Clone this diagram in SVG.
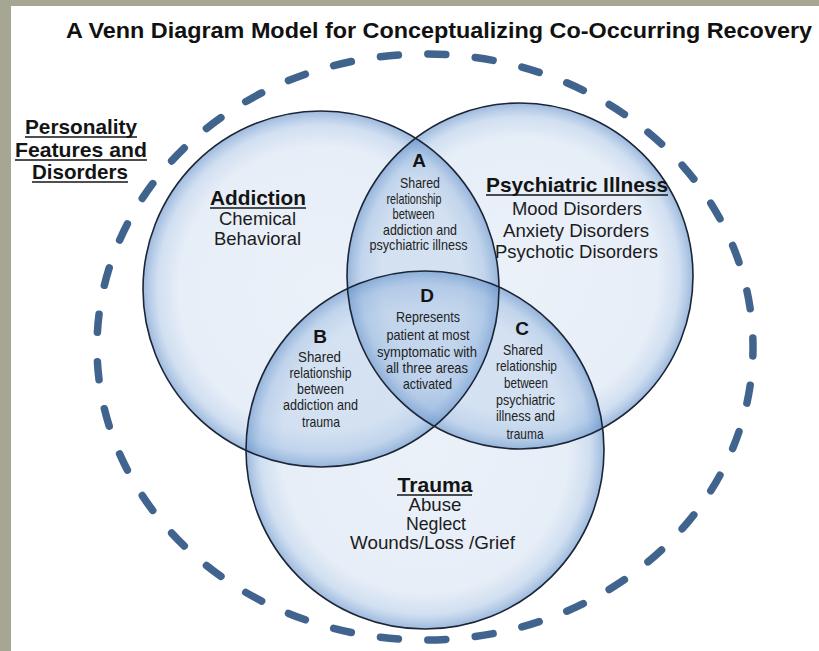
<svg xmlns="http://www.w3.org/2000/svg" width="819" height="651" viewBox="0 0 819 651">
  <defs>
    <!-- bubble fill: pale, translucent centre with a deeper blue rim so overlaps darken -->
    <radialGradient id="bubble" cx="0.5" cy="0.5" r="0.5">
      <stop offset="0" stop-color="#6e9bd2" stop-opacity="0.14"/>
      <stop offset="0.8" stop-color="#6e9bd2" stop-opacity="0.17"/>
      <stop offset="0.92" stop-color="#6e9bd2" stop-opacity="0.32"/>
      <stop offset="1" stop-color="#5d8cc8" stop-opacity="0.6"/>
    </radialGradient>
    <style>
      .fill { fill: url(#bubble); }
      .rim { fill: none; stroke: #1c2535; stroke-width: 1.6; }
      .hdr { font-family: "Liberation Sans", Arial, sans-serif; font-weight: bold; font-size: 20.5px; fill: #141414; text-anchor: middle; }
      .body { font-family: "Liberation Sans", Arial, sans-serif; font-size: 18.4px; fill: #1c1c1c; text-anchor: middle; }
      .letter { font-family: "Liberation Sans", Arial, sans-serif; font-weight: bold; font-size: 19px; fill: #141414; text-anchor: middle; }
      .small { font-family: "Liberation Sans", Arial, sans-serif; font-size: 14.5px; fill: #222; text-anchor: middle; }
      .uline { stroke: #141414; stroke-width: 1.6; }
      .outer { fill: none; stroke: #41648f; stroke-width: 7.5; stroke-linecap: round; }
    </style>
  </defs>

  <!-- backdrop and sheet -->
  <rect x="0" y="0" width="819" height="651" fill="#a7a693"/>
  <rect x="11" y="6" width="808" height="645" fill="#ffffff"/>

  <text x="66" y="38" font-family="Liberation Sans, Arial, sans-serif" font-weight="bold" font-size="22" fill="#111" textLength="746" lengthAdjust="spacingAndGlyphs">A Venn Diagram Model for Conceptualizing Co-Occurring Recovery</text>

  <!-- outer boundary: personality features and disorders -->
  <g id="personality">
    <ellipse class="outer" cx="425" cy="347" rx="328" ry="293" pathLength="410" stroke-dasharray="3.8 6.2" stroke-dashoffset="1.9"/>
    <text class="hdr" x="81" y="134" textLength="112" lengthAdjust="spacingAndGlyphs">Personality</text>
    <line class="uline" x1="25" y1="137" x2="137" y2="137"/>
    <text class="hdr" x="81" y="157" textLength="132" lengthAdjust="spacingAndGlyphs">Features and</text>
    <line class="uline" x1="15" y1="160" x2="147" y2="160"/>
    <text class="hdr" x="80" y="179" textLength="96" lengthAdjust="spacingAndGlyphs">Disorders</text>
    <line class="uline" x1="32" y1="182" x2="128" y2="182"/>
  </g>

  <!-- circle fills -->
  <g id="fills">
    <circle class="fill" cx="321" cy="289" r="178"/>
    <circle class="fill" cx="520" cy="276" r="173"/>
    <circle class="fill" cx="425" cy="450" r="179"/>
  </g>
  <!-- circle outlines, drawn over all fills -->
  <g id="outlines">
    <circle class="rim" cx="321" cy="289" r="178"/>
    <circle class="rim" cx="520" cy="276" r="173"/>
    <circle class="rim" cx="425" cy="450" r="179"/>
  </g>

  <g id="addiction">
    <text class="hdr" x="258" y="205" textLength="96" lengthAdjust="spacingAndGlyphs">Addiction</text>
    <line class="uline" x1="210" y1="208" x2="306" y2="208"/>
    <text class="body" x="257.5" y="225" textLength="77" lengthAdjust="spacingAndGlyphs">Chemical</text>
    <text class="body" x="257.5" y="245" textLength="87" lengthAdjust="spacingAndGlyphs">Behavioral</text>
  </g>

  <g id="psychiatric">
    <text class="hdr" x="577" y="192" textLength="182" lengthAdjust="spacingAndGlyphs">Psychiatric Illness</text>
    <line class="uline" x1="486" y1="195" x2="668" y2="195"/>
    <text class="body" x="577" y="215" textLength="130" lengthAdjust="spacingAndGlyphs">Mood Disorders</text>
    <text class="body" x="576" y="237" textLength="146" lengthAdjust="spacingAndGlyphs">Anxiety Disorders</text>
    <text class="body" x="576.5" y="258" textLength="163" lengthAdjust="spacingAndGlyphs">Psychotic Disorders</text>
  </g>

  <g id="trauma">
    <text class="hdr" x="435" y="492" textLength="75" lengthAdjust="spacingAndGlyphs">Trauma</text>
    <line class="uline" x1="397" y1="495" x2="472" y2="495"/>
    <text class="body" x="435" y="511" textLength="53" lengthAdjust="spacingAndGlyphs">Abuse</text>
    <text class="body" x="436" y="530" textLength="60" lengthAdjust="spacingAndGlyphs">Neglect</text>
    <text class="body" x="432.5" y="549" textLength="165" lengthAdjust="spacingAndGlyphs">Wounds/Loss /Grief</text>
  </g>

  <g id="region-a">
    <text class="letter" x="419" y="167">A</text>
    <text class="small" x="420" y="188" textLength="40" lengthAdjust="spacingAndGlyphs">Shared</text>
    <text class="small" x="414" y="203.5" textLength="55" lengthAdjust="spacingAndGlyphs">relationship</text>
    <text class="small" x="413.5" y="219" textLength="42" lengthAdjust="spacingAndGlyphs">between</text>
    <text class="small" x="420" y="234.5" textLength="74" lengthAdjust="spacingAndGlyphs">addiction  and</text>
    <text class="small" x="418.5" y="249.5" textLength="98" lengthAdjust="spacingAndGlyphs">psychiatric illness</text>
  </g>

  <g id="region-b">
    <text class="letter" x="320" y="343">B</text>
    <text class="small" x="319.5" y="362" textLength="43" lengthAdjust="spacingAndGlyphs">Shared</text>
    <text class="small" x="320.5" y="378" textLength="62" lengthAdjust="spacingAndGlyphs">relationship</text>
    <text class="small" x="320.5" y="394" textLength="47" lengthAdjust="spacingAndGlyphs">between</text>
    <text class="small" x="320.5" y="410" textLength="75" lengthAdjust="spacingAndGlyphs">addiction  and</text>
    <text class="small" x="321" y="426.5" textLength="38" lengthAdjust="spacingAndGlyphs">trauma</text>
  </g>

  <g id="region-c">
    <text class="letter" x="522" y="335">C</text>
    <text class="small" x="523" y="355" textLength="40" lengthAdjust="spacingAndGlyphs">Shared</text>
    <text class="small" x="526.5" y="371" textLength="61" lengthAdjust="spacingAndGlyphs">relationship</text>
    <text class="small" x="526" y="388" textLength="44" lengthAdjust="spacingAndGlyphs">between</text>
    <text class="small" x="525.5" y="404.5" textLength="59" lengthAdjust="spacingAndGlyphs">psychiatric</text>
    <text class="small" x="525.5" y="421" textLength="59" lengthAdjust="spacingAndGlyphs">illness and</text>
    <text class="small" x="525" y="439" textLength="37" lengthAdjust="spacingAndGlyphs">trauma</text>
  </g>

  <g id="region-d">
    <text class="letter" x="427" y="302">D</text>
    <text class="small" x="428" y="322" textLength="64" lengthAdjust="spacingAndGlyphs">Represents</text>
    <text class="small" x="428" y="339.5" textLength="83" lengthAdjust="spacingAndGlyphs">patient at most</text>
    <text class="small" x="427" y="356.5" textLength="100" lengthAdjust="spacingAndGlyphs">symptomatic with</text>
    <text class="small" x="427" y="372.5" textLength="82" lengthAdjust="spacingAndGlyphs">all three areas</text>
    <text class="small" x="427.5" y="389" textLength="49" lengthAdjust="spacingAndGlyphs">activated</text>
  </g>
</svg>
